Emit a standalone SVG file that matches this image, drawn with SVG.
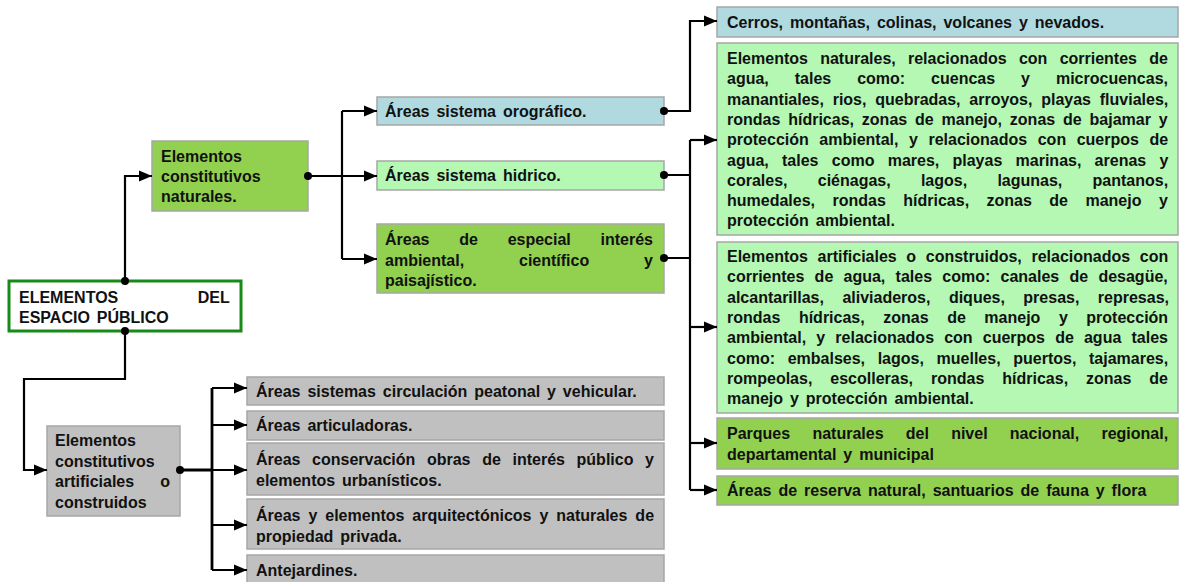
<svg xmlns="http://www.w3.org/2000/svg" width="1179" height="582" viewBox="0 0 1179 582">
<defs>
<marker id="arr" markerUnits="userSpaceOnUse" markerWidth="14" markerHeight="14" refX="13" refY="7" orient="auto">
<path d="M0,1.5 L13,7 L0,12.5 Z" fill="#000"/>
</marker>
<style>
.t{font-family:"Liberation Sans",Arial,sans-serif;font-weight:bold;font-size:16px;fill:#111;word-spacing:2.5px}
.box{stroke:#a6a6a6;stroke-width:1.5}
.blue{fill:#b0d9e0}
.lg{fill:#b4f8b4}
.mg{fill:#92d050}
.gr{fill:#c0c0c0}
.c{fill:none;stroke:#000;stroke-width:2.2}
.a{marker-end:url(#arr)}
.dot{fill:#000}
</style>
</defs>
<rect width="1179" height="582" fill="#fff"/>

<g id="root">
<rect x="9" y="281" width="232" height="50" fill="#fff" stroke="#178a17" stroke-width="3"/>
<text class="t"><tspan x="19" y="303" style="word-spacing:75px">ELEMENTOS DEL</tspan><tspan x="19" y="323">ESPACIO PÚBLICO</tspan></text>
</g>

<g id="naturales">
<rect class="box mg" x="152" y="141" width="156" height="70"/>
<text class="t"><tspan x="161" y="162">Elementos</tspan><tspan x="161" y="182">constitutivos</tspan><tspan x="161" y="202">naturales.</tspan></text>
</g>

<g id="orografico">
<rect class="box blue" x="377" y="97" width="287" height="28"/>
<text class="t" x="385" y="117">Áreas sistema orográfico.</text>
</g>

<g id="hidrico">
<rect class="box lg" x="377" y="161" width="287" height="29"/>
<text class="t" x="385" y="181">Áreas sistema hidrico.</text>
</g>

<g id="especial">
<rect class="box mg" x="377" y="224" width="287" height="69"/>
<text class="t"><tspan x="385" y="245" style="word-spacing:25.3px">Áreas de especial interés</tspan><tspan x="385" y="265.5" style="word-spacing:50.4px">ambiental, científico y</tspan><tspan x="385" y="286">paisajístico.</tspan></text>
</g>

<g id="cerros">
<rect class="box blue" x="717" y="7" width="461" height="30"/>
<text class="t" x="727" y="28">Cerros, montañas, colinas, volcanes y nevados.</text>
</g>

<g id="elementos-naturales">
<rect class="box lg" x="717" y="43" width="461" height="192"/>
<text class="t">
<tspan x="727" y="64" style="word-spacing:7.8px">Elementos naturales, relacionados con corrientes de</tspan>
<tspan x="727" y="84.3" style="word-spacing:21.5px">agua, tales como: cuencas y microcuencas,</tspan>
<tspan x="727" y="104.6" style="word-spacing:4.3px">manantiales, rios, quebradas, arroyos, playas fluviales,</tspan>
<tspan x="727" y="124.9" style="word-spacing:3.4px">rondas hídricas, zonas de manejo, zonas de bajamar y</tspan>
<tspan x="727" y="145.2" style="word-spacing:6.1px">protección ambiental, y relacionados con cuerpos de</tspan>
<tspan x="727" y="165.5" style="word-spacing:8.8px">agua, tales como mares, playas marinas, arenas y</tspan>
<tspan x="727" y="185.8" style="word-spacing:25.8px">corales, ciénagas, lagos, lagunas, pantanos,</tspan>
<tspan x="727" y="206.1" style="word-spacing:13px">humedales, rondas hídricas, zonas de manejo y</tspan>
<tspan x="727" y="226.4">protección ambiental.</tspan>
</text>
</g>

<g id="elementos-artificiales-agua">
<rect class="box lg" x="717" y="242" width="461" height="171"/>
<text class="t">
<tspan x="727" y="262" style="word-spacing:5.2px">Elementos artificiales o construidos, relacionados con</tspan>
<tspan x="727" y="282.3" style="word-spacing:5.8px">corrientes de agua, tales como: canales de desagüe,</tspan>
<tspan x="727" y="302.6" style="word-spacing:14px">alcantarillas, aliviaderos, diques, presas, represas,</tspan>
<tspan x="727" y="322.9" style="word-spacing:14.1px">rondas hídricas, zonas de manejo y protección</tspan>
<tspan x="727" y="343.2" style="word-spacing:5.7px">ambiental, y relacionados con cuerpos de agua tales</tspan>
<tspan x="727" y="363.5" style="word-spacing:8.2px">como: embalses, lagos, muelles, puertos, tajamares,</tspan>
<tspan x="727" y="383.8" style="word-spacing:13.5px">rompeolas, escolleras, rondas hídricas, zonas de</tspan>
<tspan x="727" y="404.1">manejo y protección ambiental.</tspan>
</text>
</g>

<g id="parques">
<rect class="box mg" x="717" y="418" width="461" height="51"/>
<text class="t"><tspan x="727" y="439" style="word-spacing:17.8px">Parques naturales del nivel nacional, regional,</tspan><tspan x="727" y="460">departamental y municipal</tspan></text>
</g>

<g id="reserva">
<rect class="box mg" x="717" y="476" width="461" height="29"/>
<text class="t" x="727" y="496">Áreas de reserva natural, santuarios de fauna y flora</text>
</g>

<g id="artificiales">
<rect class="box gr" x="47" y="426" width="133" height="90"/>
<text class="t"><tspan x="55" y="446">Elementos</tspan><tspan x="55" y="466.5">constitutivos</tspan><tspan x="55" y="487" style="word-spacing:21.6px">artificiales o</tspan><tspan x="55" y="507.5">construidos</tspan></text>
</g>

<g id="circulacion">
<rect class="box gr" x="247" y="377" width="417" height="28"/>
<text class="t" x="256" y="397">Áreas sistemas circulación peatonal y vehicular.</text>
</g>

<g id="articuladoras">
<rect class="box gr" x="247" y="411" width="417" height="29"/>
<text class="t" x="256" y="431">Áreas articuladoras.</text>
</g>

<g id="conservacion">
<rect class="box gr" x="247" y="443" width="417" height="52"/>
<text class="t"><tspan x="256" y="465" style="word-spacing:7.2px">Áreas conservación obras de interés público y</tspan><tspan x="256" y="485.5">elementos urbanísticos.</tspan></text>
</g>

<g id="arquitectonicos">
<rect class="box gr" x="247" y="499" width="417" height="50"/>
<text class="t"><tspan x="256" y="521" style="word-spacing:3.5px">Áreas y elementos arquitectónicos y naturales de</tspan><tspan x="256" y="541.5">propiedad privada.</tspan></text>
</g>

<g id="antejardines">
<rect class="box gr" x="247" y="555" width="417" height="40"/>
<text class="t" x="256" y="576">Antejardines.</text>
</g>

<g id="connectors">
<path class="c a" d="M125,281 V176 H152"/>
<path class="c a" d="M125,331 V379 H24 V470 H47"/>
<path class="c" d="M308,176 H342 M342,111 V259"/>
<path class="c a" d="M342,111 H377"/>
<path class="c a" d="M342,176 H377"/>
<path class="c a" d="M342,259 H377"/>
<path class="c a" d="M664,111 H690 V21 H717"/>
<path class="c" d="M664,175 H690 M664,258 H690 M690,140 V490"/>
<path class="c a" d="M690,140 H717"/>
<path class="c a" d="M690,327 H717"/>
<path class="c a" d="M690,443 H717"/>
<path class="c a" d="M690,490 H717"/>
<path class="c" d="M180,470 H212 M212,388 V570" style="stroke-width:2.8"/>
<path class="c a" d="M212,388 H247"/>
<path class="c a" d="M212,425 H247"/>
<path class="c a" d="M212,470 H247"/>
<path class="c a" d="M212,525 H247"/>
<path class="c a" d="M212,570 H247"/>
<circle class="dot" cx="125" cy="281" r="4"/>
<circle class="dot" cx="125" cy="331" r="4"/>
<circle class="dot" cx="308" cy="176" r="4"/>
<circle class="dot" cx="664" cy="111" r="4"/>
<circle class="dot" cx="664" cy="175" r="4"/>
<circle class="dot" cx="664" cy="258" r="4"/>
<circle class="dot" cx="180" cy="470" r="4"/>
</g>
</svg>
